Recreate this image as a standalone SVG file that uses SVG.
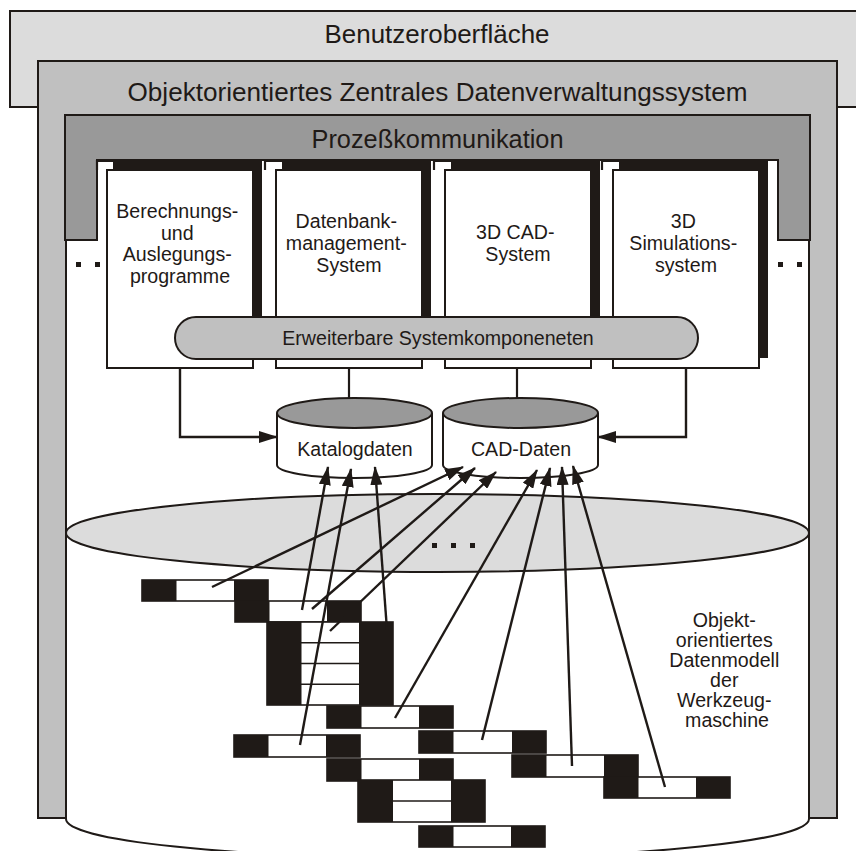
<svg xmlns="http://www.w3.org/2000/svg" width="856" height="851" viewBox="0 0 856 851">
<defs>
<style>
text { font-family: "Liberation Sans", Arial, sans-serif; fill: #1f1a17; }
.h { font-size: 25.5px; }
.t { font-size: 19.6px; }
.o { stroke: #1f1a17; stroke-width: 2; }
.blk { fill: #1f1a17; }
.wb { fill: #ffffff; stroke: #1f1a17; stroke-width: 1.6; }
.sep { stroke: #1f1a17; stroke-width: 1.6; }
.ln { fill: none; stroke: #1f1a17; stroke-width: 2.2; }
.ar { fill: none; stroke: #1f1a17; stroke-width: 2.4; marker-end: url(#ah); }
</style>
<marker id="ah" markerUnits="userSpaceOnUse" markerWidth="19" markerHeight="12" refX="18" refY="6" orient="auto"><path d="M0,0 L19,6 L0,12 z" fill="#1f1a17"/></marker>
</defs>
<rect x="0" y="0" width="856" height="851" fill="#ffffff"/>

<g id="benutzeroberflaeche">
<rect x="10" y="11" width="860" height="96" fill="#dcdcdc" class="o"/>
<text class="h" x="437" y="43" text-anchor="middle" textLength="225" lengthAdjust="spacingAndGlyphs">Benutzeroberfläche</text>
</g>

<g id="datenverwaltungssystem">
<path d="M38,61 H837 V818 H809 V240 H778 V160 H97 V240 H66 V818 H38 Z" fill="#c0c0c0" class="o"/>
<text class="h" x="437.5" y="101" text-anchor="middle" textLength="620" lengthAdjust="spacingAndGlyphs">Objektorientiertes Zentrales Datenverwaltungssystem</text>
</g>

<g id="prozesskommunikation">
<path d="M65,115 H810 V240 H778 V160 H97 V240 H65 Z" fill="#999999" class="o"/>
<text class="h" x="437.5" y="148" text-anchor="middle" textLength="252" lengthAdjust="spacingAndGlyphs">Prozeßkommunikation</text>
</g>

<g id="dots">
<rect x="76" y="262" width="5" height="5" class="blk"/>
<rect x="95" y="262" width="5" height="5" class="blk"/>
<rect x="778" y="262" width="5" height="5" class="blk"/>
<rect x="797" y="262" width="5" height="5" class="blk"/>
</g>

<g id="datenmodell">
<path d="M66,533 V819 A371.5,39 0 0 0 809,819 V533" fill="#ffffff" class="o"/>
<ellipse cx="437.5" cy="533" rx="371.5" ry="39" fill="#dcdcdc" class="o"/>
<rect x="432" y="543" width="5" height="5" class="blk"/>
<rect x="451" y="543" width="5" height="5" class="blk"/>
<rect x="470" y="543" width="5" height="5" class="blk"/>
<text class="t" text-anchor="middle">
<tspan x="727" y="627">Objekt-</tspan>
<tspan x="727" y="647">orientiertes</tspan>
<tspan x="727" y="667">Datenmodell</tspan>
<tspan x="727" y="687">der</tspan>
<tspan x="727" y="707">Werkzeug-</tspan>
<tspan x="727" y="727">maschine</tspan>
</text>
</g>

<g id="modul-berechnung">
<path d="M97,170 V161 H113" class="ln"/>
<rect x="113" y="160" width="149" height="198" class="blk"/>
<rect x="107" y="170" width="146" height="198" fill="#ffffff" class="o"/>
<text class="t" text-anchor="middle">
<tspan x="180" y="218">Berechnungs-</tspan>
<tspan x="180" y="239.5">und</tspan>
<tspan x="180" y="261">Auslegungs-</tspan>
<tspan x="180" y="282.5">programme</tspan>
</text>
</g>

<g id="modul-datenbank">
<path d="M265,170 V161 H282" class="ln"/>
<rect x="282" y="160" width="149" height="198" class="blk"/>
<rect x="276" y="170" width="146" height="198" fill="#ffffff" class="o"/>
<text class="t" text-anchor="middle">
<tspan x="349" y="228">Datenbank-</tspan>
<tspan x="349" y="250">management-</tspan>
<tspan x="349" y="271.5">System</tspan>
</text>
</g>

<g id="modul-cad">
<path d="M434,170 V161 H451" class="ln"/>
<rect x="451" y="160" width="149" height="198" class="blk"/>
<rect x="445" y="170" width="146" height="198" fill="#ffffff" class="o"/>
<text class="t" text-anchor="middle">
<tspan x="518" y="239">3D CAD-</tspan>
<tspan x="518" y="260.5">System</tspan>
</text>
</g>

<g id="modul-simulation">
<path d="M602,170 V161 H619" class="ln"/>
<rect x="619" y="160" width="149" height="198" class="blk"/>
<rect x="613" y="170" width="146" height="198" fill="#ffffff" class="o"/>
<text class="t" text-anchor="middle">
<tspan x="686" y="228">3D</tspan>
<tspan x="686" y="250">Simulations-</tspan>
<tspan x="686" y="271.5">system</tspan>
</text>
</g>

<g id="erweiterbare-systemkomponenten">
<rect x="175" y="317" width="523" height="42" rx="21" ry="21" fill="#c0c0c0" class="o"/>
<text class="t" x="438" y="345" text-anchor="middle">Erweiterbare Systemkomponeneten</text>
</g>

<g id="katalogdaten">
<path d="M277,413 V465 A77.5,13 0 0 0 432,465 V413" fill="#ffffff" class="o"/>
<ellipse cx="354.5" cy="413" rx="77.5" ry="15" fill="#999999" class="o"/>
<text class="t" x="355" y="456" text-anchor="middle">Katalogdaten</text>
</g>

<g id="cad-daten">
<path d="M443,413 V465 A77.5,13 0 0 0 598,465 V413" fill="#ffffff" class="o"/>
<ellipse cx="520.5" cy="413" rx="77.5" ry="15" fill="#999999" class="o"/>
<text class="t" x="521" y="456" text-anchor="middle">CAD-Daten</text>
</g>

<g id="objekt-a">
<rect x="142" y="580" width="126" height="21" class="wb"/>
<rect x="142" y="580" width="34.5" height="21" class="blk"/>
<rect x="234" y="580" width="34" height="21" class="blk"/>
</g>
<g id="objekt-b">
<rect x="235" y="601" width="126" height="21" class="wb"/>
<rect x="235" y="601" width="34.5" height="21" class="blk"/>
<rect x="327" y="601" width="34" height="21" class="blk"/>
</g>
<g id="objekt-c">
<rect x="267" y="622" width="126" height="83" class="wb"/>
<line x1="301" y1="642.75" x2="359" y2="642.75" class="sep"/>
<line x1="301" y1="663.5" x2="359" y2="663.5" class="sep"/>
<line x1="301" y1="684.25" x2="359" y2="684.25" class="sep"/>
<rect x="267" y="622" width="34.5" height="83" class="blk"/>
<rect x="359" y="622" width="34" height="83" class="blk"/>
</g>
<g id="objekt-d">
<rect x="327" y="706" width="126" height="22" class="wb"/>
<rect x="327" y="706" width="34.5" height="22" class="blk"/>
<rect x="419" y="706" width="34" height="22" class="blk"/>
</g>
<g id="objekt-e">
<rect x="234" y="735" width="126" height="22" class="wb"/>
<rect x="234" y="735" width="34.5" height="22" class="blk"/>
<rect x="326" y="735" width="34" height="22" class="blk"/>
</g>
<g id="objekt-f">
<rect x="327" y="759" width="126" height="22" class="wb"/>
<rect x="327" y="759" width="34.5" height="22" class="blk"/>
<rect x="419" y="759" width="34" height="22" class="blk"/>
</g>
<g id="objekt-g">
<rect x="358" y="780" width="127" height="42" class="wb"/>
<line x1="392" y1="801" x2="451" y2="801" class="sep"/>
<rect x="358" y="780" width="35" height="42" class="blk"/>
<rect x="451" y="780" width="34" height="42" class="blk"/>
</g>
<g id="objekt-h">
<rect x="419" y="826" width="126" height="21" class="wb"/>
<rect x="419" y="826" width="34.5" height="21" class="blk"/>
<rect x="511" y="826" width="34" height="21" class="blk"/>
</g>
<g id="objekt-i">
<rect x="419" y="731" width="127" height="22" class="wb"/>
<rect x="419" y="731" width="34.5" height="22" class="blk"/>
<rect x="512" y="731" width="34" height="22" class="blk"/>
</g>
<g id="objekt-j">
<rect x="512" y="755" width="126" height="22" class="wb"/>
<rect x="512" y="755" width="34.5" height="22" class="blk"/>
<rect x="604" y="755" width="34" height="22" class="blk"/>
</g>
<g id="objekt-k">
<rect x="604" y="777" width="126" height="21" class="wb"/>
<rect x="604" y="777" width="34.5" height="21" class="blk"/>
<rect x="696" y="777" width="34" height="21" class="blk"/>
</g>

<g id="connectors">
<path d="M180,368 V437 H277" class="ar"/>
<path d="M349,368 V398" class="ln"/>
<path d="M517,368 V398" class="ln"/>
<path d="M686,368 V437 H598" class="ar"/>
<line x1="212" y1="587" x2="463" y2="467" class="ar"/>
<line x1="302" y1="610" x2="328" y2="467" class="ar"/>
<line x1="312" y1="609" x2="475" y2="468" class="ar"/>
<line x1="330" y1="631" x2="496" y2="472" class="ar"/>
<line x1="387" y1="630" x2="375" y2="467" class="ar"/>
<line x1="300" y1="745" x2="351" y2="469" class="ar"/>
<line x1="395" y1="718" x2="537" y2="470" class="ar"/>
<line x1="482" y1="740" x2="550" y2="468" class="ar"/>
<line x1="572" y1="766" x2="562" y2="467" class="ar"/>
<line x1="665" y1="787" x2="573" y2="466" class="ar"/>
</g>
</svg>
